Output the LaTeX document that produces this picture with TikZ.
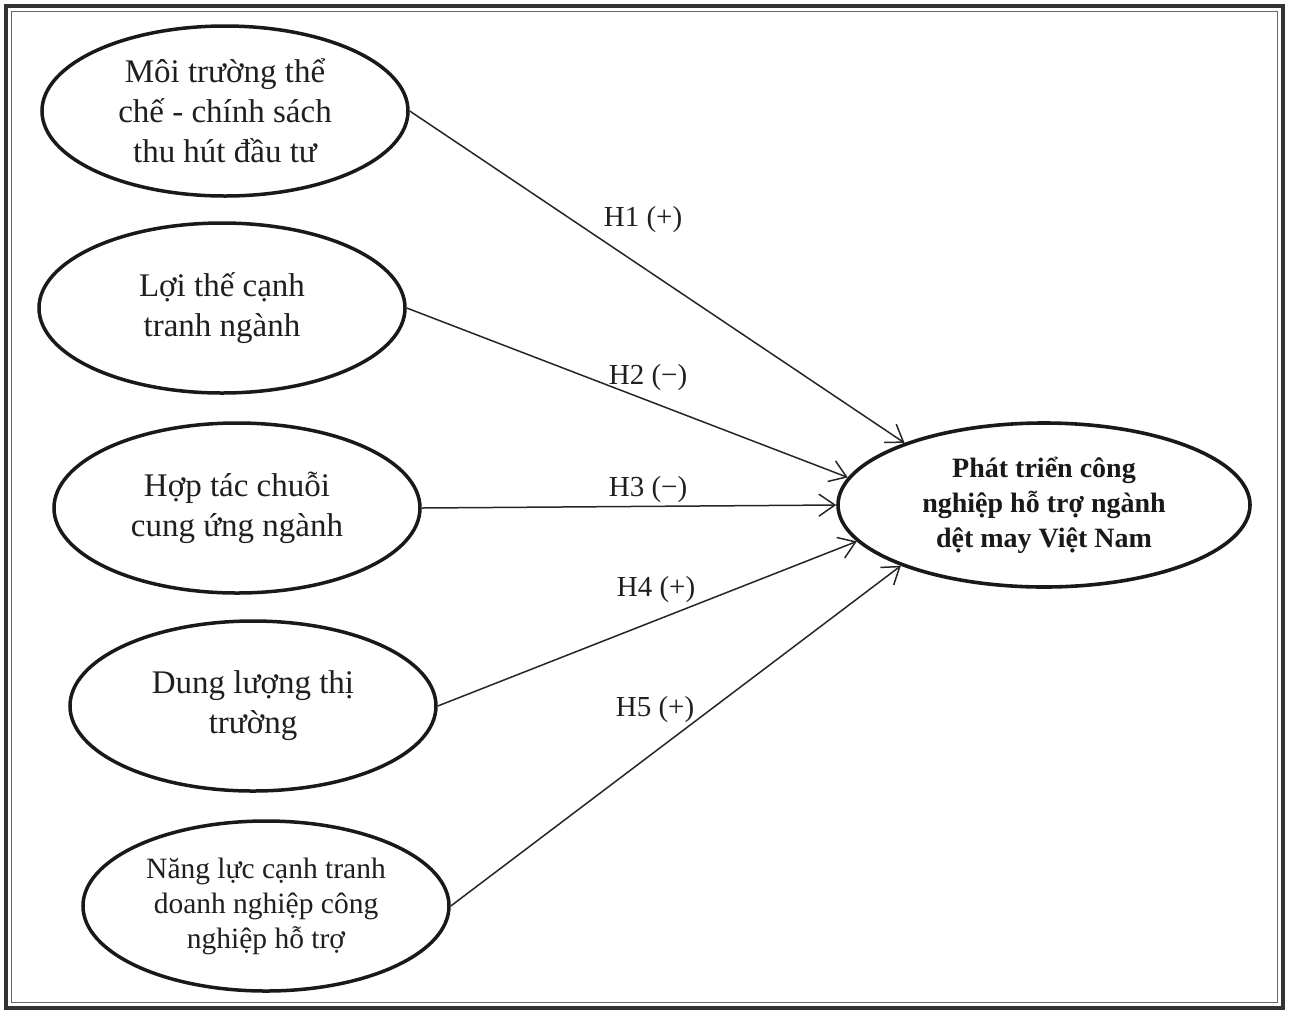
\documentclass[tikz,border=0pt]{standalone}
\usepackage{fontspec}
\setmainfont{Liberation Serif}
\usetikzlibrary{shapes.geometric,arrows.meta}
\begin{document}
\begin{tikzpicture}[x=1pt,y=-1pt,
  factor/.style={ellipse,draw=black!90,line width=3.5pt,minimum width=366pt,minimum height=170pt,inner xsep=-30pt,inner ysep=0pt,align=center,text=black!88,font=\fontsize{33}{40}\selectfont},
  goal/.style={ellipse,draw=black!90,line width=3.6pt,minimum width=412pt,minimum height=164pt,inner sep=0pt,align=center,text=black!90,font=\bfseries\fontsize{28}{35}\selectfont},
  hyp/.style={text=black!88,font=\fontsize{29}{32}\selectfont,inner sep=1pt},
  arr/.style={line width=1.5pt,draw=black!85,-{Straight Barb[length=16pt,width=22pt,line width=1.5pt]}}]
\useasboundingbox (0,0) rectangle (1289,1013);
\fill[white] (0,0) rectangle (1289,1013);
\draw[line width=3.5pt,black!80] (6,6) rectangle (1283,1008);
\draw[line width=0.8pt,black!60] (11.5,11.5) rectangle (1277.5,1002.5);

\node[factor] (e1) at (225,111) {Môi trường thể\\chế - chính sách\\thu hút đầu tư};
\node[factor] (e2) at (222,308) {Lợi thế cạnh\\tranh ngành};
\node[factor] (e3) at (237,508) {Hợp tác chuỗi\\cung ứng ngành};
\node[factor] (e4) at (253,706) {Dung lượng thị\\trường};
\node[factor,font=\fontsize{29.5}{35}\selectfont] (e5) at (266,906) {Năng lực cạnh tranh\\doanh nghiệp công\\nghiệp hỗ trợ};
\node[goal] (t) at (1044,505) {Phát triển công\\nghiệp hỗ trợ ngành\\dệt may Việt Nam};

\draw[arr] (e1.east) -- (t.156);
\draw[arr] (e2.east) -- (t.172);
\draw[arr] (e3.east) -- (t.180);
\draw[arr] (e4.east) -- (t.191);
\draw[arr] (e5.east) -- (t.203);

\node[hyp] (h1) at (643,220) {H1 (+)};
\node[hyp] (h2) at (648,378) {H2 (−)};
\node[hyp] (h3) at (648,490) {H3 (−)};
\node[hyp] (h4) at (656,590) {H4 (+)};
\node[hyp] (h5) at (655,710) {H5 (+)};
\end{tikzpicture}
\end{document}
